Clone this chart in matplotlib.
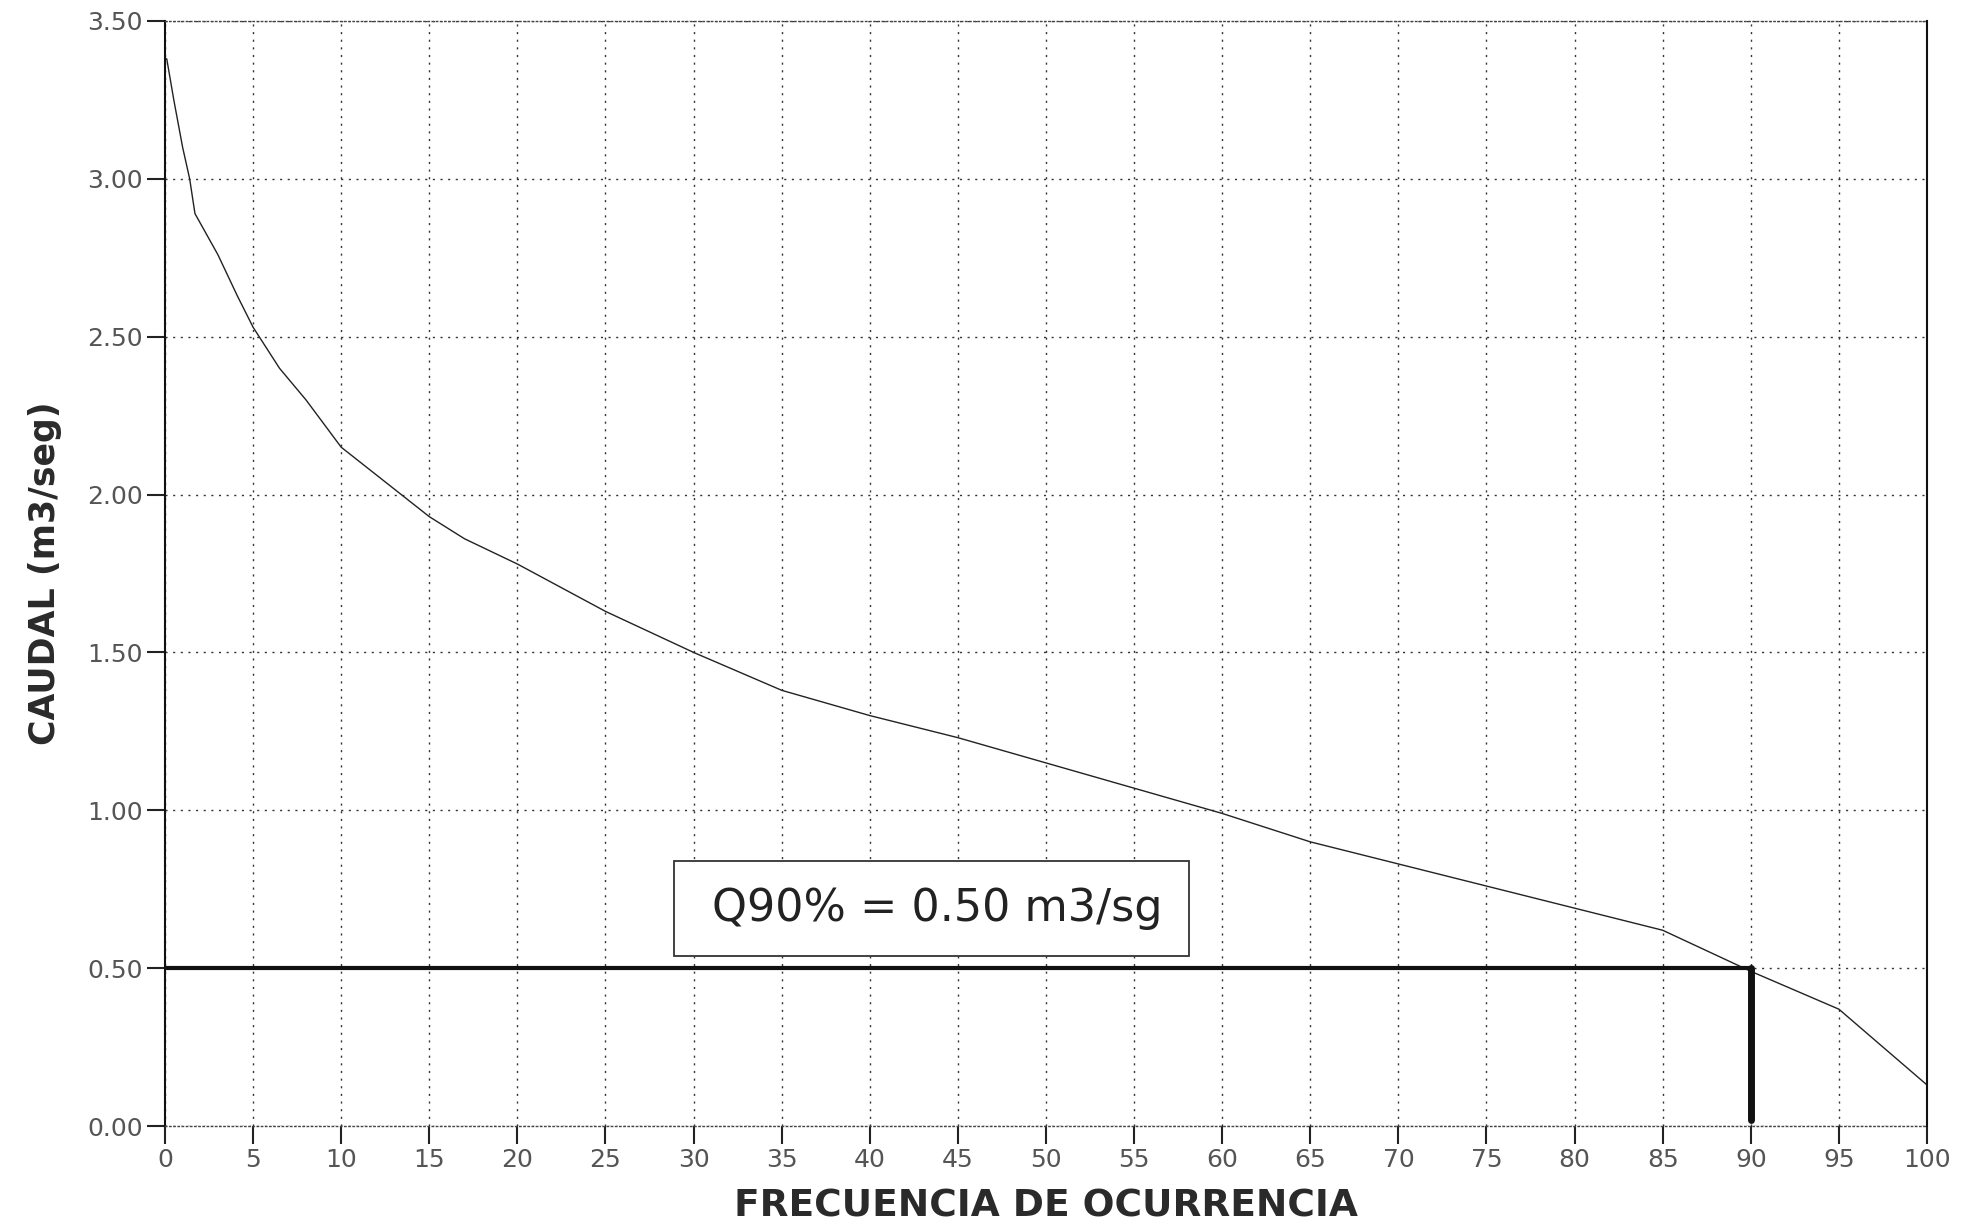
import matplotlib
matplotlib.use("Agg")
import matplotlib.pyplot as plt
from matplotlib.patches import Rectangle

plt.rcParams['font.family'] = ['DejaVu Sans']

# Duration curve data (frequency %, flow m3/s)
frecuencia = [0, 0.1, 0.5, 1.0, 1.4, 1.7, 3.0, 4.1, 5.0, 6.5, 8.0, 10, 12.5, 15, 17, 20, 25, 30, 35, 40, 45, 50, 55, 60, 65, 70, 75, 80, 85, 90, 95, 100]
caudal = [3.38, 3.38, 3.25, 3.10, 3.00, 2.89, 2.76, 2.63, 2.53, 2.40, 2.30, 2.15, 2.04, 1.93, 1.86, 1.78, 1.63, 1.50, 1.38, 1.30, 1.23, 1.15, 1.07, 0.99, 0.90, 0.83, 0.76, 0.69, 0.62, 0.49, 0.37, 0.13]

q90_x = 90
q90_y = 0.50
q90_bottom = 0.02
annot_text = "Q90% = 0.50 m3/sg"

xticks = list(range(0, 101, 5))
yticks = [0.0, 0.5, 1.0, 1.5, 2.0, 2.5, 3.0, 3.5]
ytick_labels = ["0.00", "0.50", "1.00", "1.50", "2.00", "2.50", "3.00", "3.50"]

fig = plt.figure(figsize=(19.74, 12.25), dpi=100)
ax = fig.add_axes([165/1974, 1 - 1126/1225, (1927-165)/1974, (1126-21)/1225])

ax.plot(frecuencia, caudal, color='#222222', lw=1.0)
ax.plot([0, q90_x], [q90_y, q90_y], color='#111111', lw=3.0)
ax.plot([q90_x, q90_x], [q90_bottom, q90_y], color='#111111', lw=5.0, solid_capstyle='round')

ax.set_xlim(0, 100)
ax.set_ylim(0, 3.5)
ax.set_xticks(xticks)
ax.set_xticklabels([str(t) for t in xticks])
ax.set_yticks(yticks)
ax.set_yticklabels(ytick_labels)
ax.grid(True, linestyle=(0, (1.5, 4)), color='#333333', lw=1.0)
ax.set_axisbelow(True)

for s in ['top', 'bottom']:
    ax.spines[s].set_linestyle((0, (1, 2)))
    ax.spines[s].set_linewidth(1.0)
    ax.spines[s].set_color('#444444')
for s in ['left', 'right']:
    ax.spines[s].set_linewidth(1.5)
    ax.spines[s].set_color('#111111')

ax.tick_params(axis='both', direction='out', length=13, width=1.5, color='#222222',
               labelsize=18, labelcolor='#555555', pad=3)

ax.set_xlabel("FRECUENCIA DE OCURRENCIA", fontsize=27, fontweight='bold', color='#2a2a2a', labelpad=12)
ax.set_ylabel("CAUDAL (m3/seg)", fontsize=25, fontweight='bold', color='#2a2a2a', labelpad=18)

# annotation box
ax.add_patch(Rectangle((28.9, 0.54), 29.2, 0.30, facecolor='white', edgecolor='#333333', lw=1.3, zorder=3))
ax.text(43.8, 0.69, annot_text, fontsize=32, color='#222222', ha='center', va='center', zorder=4)

fig.savefig("out.png", dpi=100)
